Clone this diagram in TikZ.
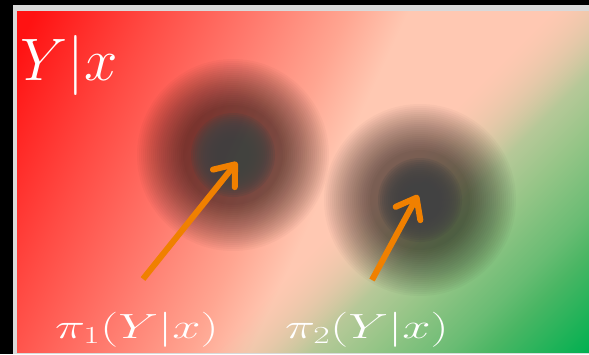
\RequirePackage{fix-cm}
\documentclass[tikz,border=0pt]{standalone}
\usepackage{amsmath}
\usepackage{tikz}
\usepackage{xcolor}
\usetikzlibrary{arrows.meta,fadings}

\definecolor{framegray}{RGB}{217,217,217}
\definecolor{bgred}{RGB}{255,18,18}
\definecolor{bgredb}{RGB}{255,75,68}
\definecolor{bgredc}{RGB}{255,120,108}
\definecolor{bgredd}{RGB}{255,165,145}
\definecolor{bgpeach}{RGB}{255,200,178}
\definecolor{bgtana}{RGB}{232,200,168}
\definecolor{bgtanb}{RGB}{205,200,160}
\definecolor{bgsagea}{RGB}{178,200,150}
\definecolor{bgsageb}{RGB}{150,197,135}
\definecolor{bggreena}{RGB}{105,188,115}
\definecolor{bggreenb}{RGB}{75,182,100}
\definecolor{bggreen}{RGB}{0,176,80}
\definecolor{coregray}{RGB}{66,66,66}
\definecolor{arroworange}{RGB}{240,128,0}

\pgfdeclarehorizontalshading{redtopeach}{100bp}{color(0bp)=(bgred); color(27.6bp)=(bgred);
  color(35.3bp)=(bgredb); color(41.8bp)=(bgredc); color(47.9bp)=(bgredd);
  color(51.8bp)=(bgpeach); color(100bp)=(bgpeach)}
\pgfdeclarehorizontalshading{peachtogreen}{100bp}{color(0bp)=(bgtana); color(25bp)=(bgtana);
  color(32.5bp)=(bgtanb); color(38.9bp)=(bgsagea); color(45.5bp)=(bgsageb);
  color(56.2bp)=(bggreena); color(61.5bp)=(bggreenb); color(75bp)=(bggreen); color(100bp)=(bggreen)}
\pgfdeclarehorizontalshading{greenfadeshade}{100bp}{color(0bp)=(black); color(25bp)=(black);
  color(38bp)=(white); color(100bp)=(white)}
\tikzfading[name=greenfade, shading=greenfadeshade]

\tikzset{
  pointer/.style={draw=arroworange, line width=6pt, -{Straight Barb[length=18pt,width=28pt,round]}},
  mathlbl/.style={text=white, inner sep=0pt, anchor=base west},
  halo/.style={fill=black, opacity=0.0285},
  core/.style={fill=coregray, opacity=0.2}
}

\begin{document}
\begin{tikzpicture}[x=1pt, y=-1pt]
\useasboundingbox (0,0) rectangle (589,354);
\fill[black] (0,0) rectangle (589,354);
\fill[framegray] (12.5,5) rectangle (589,354);

% background gradient
\begin{scope}
\clip (17,11) rectangle (589,352);
\begin{scope}[transform canvas={rotate=-25}]
\shade[shading=redtopeach] (0,-300) rectangle (700,330);
\end{scope}
\begin{scope}[transform canvas={rotate=-45}]
\shade[shading=peachtogreen, path fading=greenfade] (400,-450) rectangle (666,150);
\end{scope}
\end{scope}

% the two policies
\coordinate (blobone) at (233,155);
\coordinate (blobtwo) at (420,200);
\foreach \r in {96,94,...,50} {
  \fill[halo] (blobone) circle[radius=\r pt];
  \fill[halo] (blobtwo) circle[radius=\r pt];
}
\foreach \r in {42,40,...,14} {
  \fill[core] (blobone) circle[radius=\r pt];
  \fill[core] (blobtwo) circle[radius=\r pt];
}

\node[mathlbl, font=\fontsize{60}{60}\selectfont] (given) at (20,80) {$Y|x$};
\node[mathlbl, font=\fontsize{35}{35}\selectfont] (pione) at (55,338) {\scalebox{1.45}[1]{$\pi_1(Y|x)$}};
\node[mathlbl, font=\fontsize{35}{35}\selectfont] (pitwo) at (285,338) {\scalebox{1.45}[1]{$\pi_2(Y|x)$}};

\coordinate (tailone) at (143,279);
\coordinate (tipone) at (237,162);
\coordinate (tailtwo) at (372,280);
\coordinate (tiptwo) at (418,195);
\draw[pointer] (tailone) -- (tipone);
\draw[pointer] (tailtwo) -- (tiptwo);
\end{tikzpicture}
\end{document}
